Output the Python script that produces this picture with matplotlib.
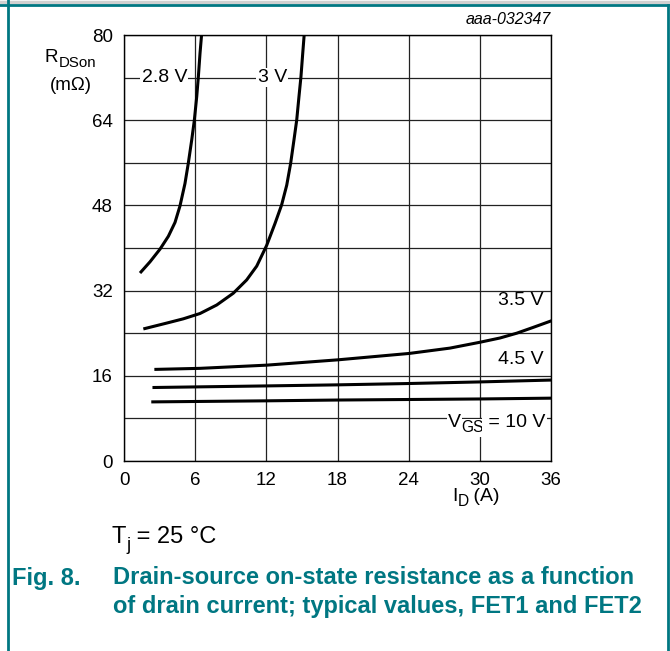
import matplotlib
matplotlib.use("Agg")
from matplotlib import pyplot as plt
from matplotlib.lines import Line2D

plt.rcParams["font.family"] = ["Liberation Sans", "DejaVu Sans"]

TEAL = "#007782"
W, H = 670, 651

# curves: drain current (A) vs R_DSon (mOhm)
id_28 = [1.35, 2.19, 3.04, 3.74, 4.30, 4.72, 5.14, 5.42, 5.71, 5.93, 6.13, 6.27, 6.41, 6.55]
r_28 = [35.3, 37.4, 39.8, 42.2, 44.8, 47.9, 52.1, 55.9, 60.3, 64.0, 68.4, 72.2, 76.6, 80.3]

id_3 = [1.63, 3.60, 5.0, 6.41, 7.82, 9.21, 10.34, 11.19, 12.03, 12.73, 13.29, 13.72,
        14.05, 14.33, 14.56, 14.75, 14.92, 15.07, 15.2]
r_3 = [24.8, 25.9, 26.7, 27.7, 29.3, 31.5, 34.0, 36.6, 40.5, 44.6, 48.1, 51.8,
       55.9, 60.3, 64.0, 68.4, 72.2, 76.6, 80.3]

id_35 = [2.56, 6.41, 12.03, 18.04, 24.05, 27.48, 30.01, 31.70, 33.11, 34.51, 36.06]
r_35 = [17.2, 17.4, 18.0, 19.0, 20.2, 21.2, 22.3, 23.1, 24.0, 25.1, 26.35]

id_45 = [2.4, 12.0, 18.0, 24.0, 30.0, 36.0]
r_45 = [13.8, 14.1, 14.3, 14.55, 14.85, 15.2]

id_10 = [2.3, 12.0, 18.0, 24.0, 30.0, 36.0]
r_10 = [11.1, 11.3, 11.45, 11.55, 11.65, 11.8]

x_ticks = [0, 6, 12, 18, 24, 30, 36]
y_ticks = [0, 16, 32, 48, 64, 80]

fig = plt.figure(figsize=(6.7, 6.51), dpi=100)
ax = fig.add_axes([124 / W, 1 - 461 / H, 427 / W, 426 / H])

for v in range(0, 37, 6):
    ax.axvline(v, color="#222222", lw=0.9, zorder=1)
for v in range(0, 81, 8):
    ax.axhline(v, color="#222222", lw=0.9, zorder=1)

for xs, ys in [(id_28, r_28), (id_3, r_3), (id_35, r_35), (id_45, r_45), (id_10, r_10)]:
    ax.plot(xs, ys, color="black", lw=2.2, solid_capstyle="butt", solid_joinstyle="round",
            zorder=3, clip_on=True)

ax.set_xlim(0, 36)
ax.set_ylim(0, 80)
ax.set_xticks(x_ticks)
ax.set_yticks(y_ticks)
ax.tick_params(length=0, labelsize=13.5, pad=8)
for s in ax.spines.values():
    s.set_linewidth(1.0)

box = dict(facecolor="white", edgecolor="none", pad=1.0)
ax.text(3.4, 72, "2.8 V", ha="center", va="center", fontsize=14, bbox=box, zorder=4)
ax.text(12.5, 72, "3 V", ha="center", va="center", fontsize=14, bbox=box, zorder=4)
ax.text(35.4, 30.2, "3.5 V", ha="right", va="center", fontsize=14, zorder=4)
ax.text(35.4, 19.0, "4.5 V", ha="right", va="center", fontsize=14, zorder=4)

renderer = fig.canvas.get_renderer()


def rich_text(x, y, parts, size, ha="left", **kw):
    # x, y in pixels from the top-left corner, y is the baseline
    texts = []
    for s, sub in parts:
        fs = size * 0.8 if sub else size
        t = fig.text(0, 0, s, fontsize=fs, va="baseline", ha="left", zorder=5, **kw)
        texts.append((t, sub))
    widths = [t.get_window_extent(renderer).width for t, _ in texts]
    total = sum(widths)
    x0 = {"left": x, "center": x - total / 2, "right": x - total}[ha]
    for (t, sub), w in zip(texts, widths):
        dy = size * 0.28 * 100 / 72 if sub else 0
        t.set_position((x0 / W, 1 - (y + dy) / H))
        x0 += w


rich_text(448, 427, [("V", False), ("GS", True), (" = 10 V", False)], 14, bbox=box)
rich_text(45, 62, [("R", False), ("DSon", True)], 13.5)
fig.text(71 / W, 1 - 90 / H, "(m\u03a9)", ha="center", va="baseline", fontsize=13.5)
rich_text(476, 501, [("I", False), ("D", True), (" (A)", False)], 14, ha="center")
fig.text(551 / W, 1 - 20 / H, "aaa-032347", ha="right", va="center", fontsize=11.5,
         style="italic")

rich_text(112, 543, [("T", False), ("j", True), (" = 25 \u00b0C", False)], 17)
fig.text(12 / W, 1 - 578 / H, "Fig. 8.", ha="left", va="center", fontsize=17,
         fontweight="bold", color=TEAL)
fig.text(113 / W, 1 - 578 / H, "Drain-source on-state resistance as a function",
         ha="left", va="center", fontsize=17, fontweight="bold", color=TEAL)
fig.text(113 / W, 1 - 606 / H, "of drain current; typical values, FET1 and FET2",
         ha="left", va="center", fontsize=17, fontweight="bold", color=TEAL)

# page frame
fig.add_artist(Line2D([0, 1], [1 - 1.5 / H] * 2, color="#d0d0d0", lw=2.5))
fig.add_artist(Line2D([0, 668 / W], [1 - 4.5 / H] * 2, color=TEAL, lw=2.0))
fig.add_artist(Line2D([7.5 / W] * 2, [0, 1], color=TEAL, lw=2.0))
fig.add_artist(Line2D([667.5 / W] * 2, [0, 1 - 4.5 / H], color=TEAL, lw=2.0))

fig.savefig("out.png", dpi=100)
